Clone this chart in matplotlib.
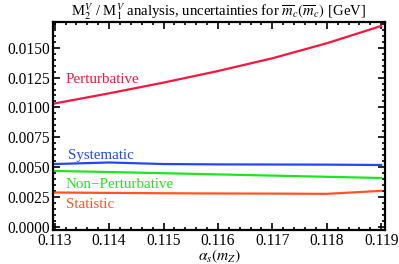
import matplotlib
matplotlib.use("Agg")
import matplotlib.pyplot as plt
from matplotlib.ticker import MultipleLocator, FormatStrFormatter

alpha = [0.113, 0.114, 0.115, 0.116, 0.117, 0.118, 0.119]
perturbative = [0.01033, 0.01118, 0.01208, 0.01305, 0.01412, 0.01538, 0.01683]
systematic = [0.00525, 0.00538, 0.00525, 0.00522, 0.00521, 0.00520, 0.00517]
nonpert = [0.00467, 0.00458, 0.00448, 0.00438, 0.00428, 0.00418, 0.00408]
statistic = [0.00286, 0.00283, 0.00280, 0.00278, 0.00277, 0.00275, 0.00300]

labels = ["Perturbative", "Systematic", "Non\u2212Perturbative", "Statistic"]
colors = ["#f5173f", "#2546f0", "#1fe51f", "#ff5522"]
label_pos = [(0.1132, 0.01235), (0.11325, 0.0060), (0.11320, 0.00355), (0.1132, 0.00188)]

plt.rcParams['font.family'] = ['Liberation Serif', 'DejaVu Serif']
plt.rcParams['mathtext.fontset'] = 'stix'

fig = plt.figure(figsize=(3.99, 2.64), dpi=100)
ax = fig.add_axes([0.133, 0.128, 0.832, 0.789])

for y, c in zip([perturbative, systematic, nonpert, statistic], colors):
    ax.plot(alpha, y, color=c, lw=1.6)
for lab, c, (x, y) in zip(labels, colors, label_pos):
    ax.text(x, y, lab, color=c, fontsize=10.8, va='center', ha='left')

ax.set_xlim(0.11297, 0.11907)
ax.set_ylim(-0.0003, 0.01717)
ax.xaxis.set_major_locator(MultipleLocator(0.001))
ax.xaxis.set_minor_locator(MultipleLocator(0.0002))
ax.yaxis.set_major_locator(MultipleLocator(0.0025))
ax.yaxis.set_minor_locator(MultipleLocator(0.0005))
ax.yaxis.set_major_formatter(FormatStrFormatter('%.4f'))
ax.xaxis.set_major_formatter(FormatStrFormatter('%.3f'))
ax.tick_params(which='both', direction='in', top=True, right=True, labelsize=11.2, width=1.2)
ax.tick_params(which='major', length=5, pad=2)
ax.tick_params(which='minor', length=2.5)
for s in ax.spines.values():
    s.set_linewidth(1.6)

ax.set_xlabel(r"$\alpha_s(m_Z)$", fontsize=11.2, labelpad=-1)
ax.set_title(r"M$_2^V$ / M$_1^V$ analysis, uncertainties for $\overline{m}_c(\overline{m}_c)$ [GeV]",
             fontsize=10.6, pad=3)

fig.savefig("out.png", dpi=100)
